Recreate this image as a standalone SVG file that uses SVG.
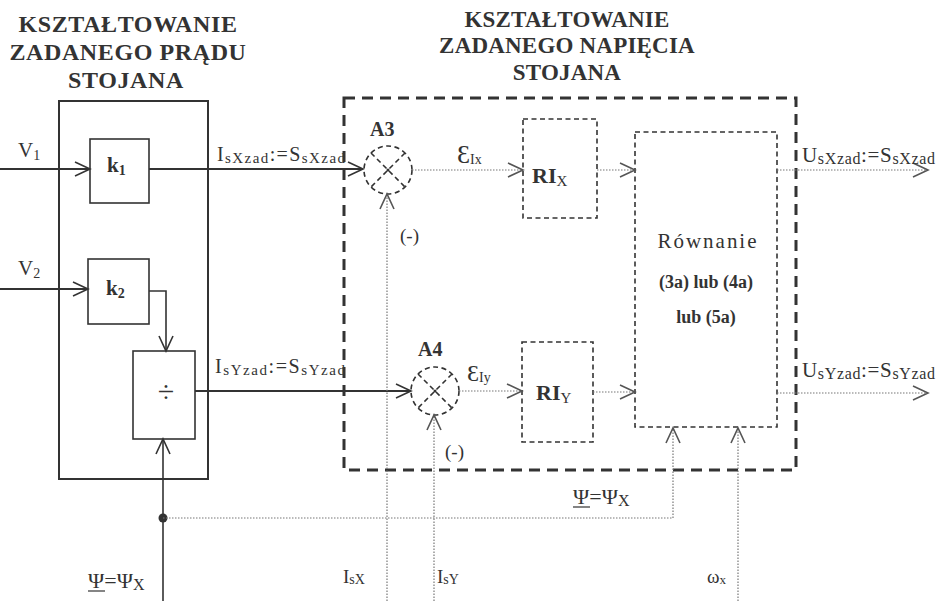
<svg xmlns="http://www.w3.org/2000/svg" width="943" height="601" viewBox="0 0 943 601" font-family="'Liberation Serif', 'DejaVu Serif', serif">
<style>
text{font-family:'Liberation Serif','DejaVu Serif',serif;fill:#333}
.h{font-weight:bold;font-size:24px;letter-spacing:0.6px;text-anchor:middle}
.h2{font-weight:bold;font-size:23px;letter-spacing:0.2px;text-anchor:middle}
.b{font-weight:bold}
.solid{fill:none;stroke:#333;stroke-width:2}
.thin{fill:none;stroke:#333;stroke-width:1.6}
.dot{fill:none;stroke:#777;stroke-width:1.2;stroke-dasharray:1.5 1.5}
.big{fill:none;stroke:#333;stroke-width:3;stroke-dasharray:11 7}
.dash{fill:none;stroke:#333;stroke-width:1.6;stroke-dasharray:5 3.5}
</style>
<defs>
<marker id="a" markerUnits="userSpaceOnUse" markerWidth="18" markerHeight="16" refX="16" refY="8" orient="auto">
<path d="M1,1 L16,8 L1,15" fill="none" stroke="#333" stroke-width="1.6"/>
</marker>
<marker id="ag" markerUnits="userSpaceOnUse" markerWidth="18" markerHeight="16" refX="16" refY="8" orient="auto">
<path d="M1,1 L16,8 L1,15" fill="none" stroke="#555" stroke-width="1.6"/>
</marker>
</defs>

<g id="headings">
<text class="h" x="128" y="32">KSZTAŁTOWANIE</text>
<text class="h" x="128" y="60">ZADANEGO PRĄDU</text>
<text class="h" x="126" y="88">STOJANA</text>
<text class="h2" x="567" y="27">KSZTAŁTOWANIE</text>
<text class="h2" x="567" y="53">ZADANEGO NAPIĘCIA</text>
<text class="h2" x="567" y="80">STOJANA</text>
</g>

<g id="current-block">
<rect class="solid" x="59" y="101" width="149" height="378"/>
</g>
<g id="voltage-block">
<rect class="big" x="344" y="98" width="452" height="372"/>
</g>

<g id="k1">
<rect class="thin" x="90" y="139" width="59" height="64"/>
<text class="b" x="107" y="172" font-size="21">k<tspan font-size="14" dy="3">1</tspan></text>
</g>
<g id="k2">
<rect class="thin" x="88" y="259" width="61" height="65"/>
<text class="b" x="106" y="295" font-size="21">k<tspan font-size="14" dy="3">2</tspan></text>
</g>
<g id="div">
<rect class="thin" x="133" y="351" width="62" height="88"/>
<text x="166" y="402" font-size="30" text-anchor="middle">÷</text>
</g>

<g id="A3">
<circle class="dash" cx="388" cy="170" r="24"/>
<path class="dash" d="M371,153 L405,187 M405,153 L371,187"/>
<circle cx="388" cy="170" r="1.5" fill="#333"/>
<text class="b" x="370" y="136" font-size="20">A3</text>
<text x="400" y="242" font-size="19">(-)</text>
</g>
<g id="A4">
<circle class="dash" cx="435" cy="391" r="24"/>
<path class="dash" d="M418,374 L452,408 M452,374 L418,408"/>
<circle cx="435" cy="391" r="1.5" fill="#333"/>
<text class="b" x="418" y="356" font-size="20">A4</text>
<text x="445" y="458" font-size="19">(-)</text>
</g>

<g id="RIx">
<rect class="dash" x="523" y="119" width="74" height="99"/>
<text class="b" x="532" y="183" font-size="22">RI<tspan font-size="15" dy="3" font-weight="normal">X</tspan></text>
</g>
<g id="RIy">
<rect class="dash" x="522" y="342" width="71" height="100"/>
<text class="b" x="536" y="400" font-size="22">RI<tspan font-size="15" dy="3" font-weight="normal">Y</tspan></text>
</g>
<g id="rownanie">
<rect class="dash" x="635" y="132" width="142" height="295"/>
<text x="707" y="248" font-size="21" text-anchor="middle" textLength="99">Równanie</text>
<text class="b" x="706" y="288" font-size="18" text-anchor="middle">(3a) lub (4a)</text>
<text class="b" x="706" y="323" font-size="18" text-anchor="middle">lub (5a)</text>
</g>

<g id="connectors">
<path class="solid" d="M0,169 H90" marker-end="url(#a)"/>
<path class="solid" d="M149,169 H363" marker-end="url(#a)"/>
<path class="solid" d="M0,289 H88" marker-end="url(#a)"/>
<path class="thin" d="M149,291 H166 V351" marker-end="url(#a)"/>
<path class="solid" d="M195,391 H411" marker-end="url(#a)"/>
<path class="thin" d="M163,601 V439" marker-end="url(#a)"/>
<circle cx="163" cy="518" r="4.5" fill="#333"/>
<path class="dot" d="M163,518 H673 V428" marker-end="url(#ag)"/>
<path class="dot" d="M387,601 V194" marker-end="url(#ag)"/>
<path class="dot" d="M434,601 V415" marker-end="url(#ag)"/>
<path class="dot" d="M412,170 H523" marker-end="url(#ag)"/>
<path class="dot" d="M597,170 H635" marker-end="url(#ag)"/>
<path class="dot" d="M777,170 H928" marker-end="url(#ag)"/>
<path class="dot" d="M459,391 H522" marker-end="url(#ag)"/>
<path class="dot" d="M593,392 H635" marker-end="url(#ag)"/>
<path class="dot" d="M777,393 H928" marker-end="url(#ag)"/>
<path class="dot" d="M738,601 V428" marker-end="url(#ag)"/>
</g>

<g id="labels">
<text x="18" y="157" font-size="21">V<tspan font-size="14" dy="3">1</tspan></text>
<text x="18" y="275" font-size="21">V<tspan font-size="14" dy="3">2</tspan></text>
<text x="217" y="161" font-size="20" textLength="128" lengthAdjust="spacing">I<tspan font-size="15" dy="2">sXzad</tspan><tspan dy="-2">:=S</tspan><tspan font-size="15" dy="2">sXzad</tspan></text>
<text x="215" y="373" font-size="20" textLength="130" lengthAdjust="spacing">I<tspan font-size="15" dy="2">sYzad</tspan><tspan dy="-2">:=S</tspan><tspan font-size="15" dy="2">sYzad</tspan></text>
<text x="802" y="162" font-size="21" textLength="133" lengthAdjust="spacing">U<tspan font-size="16" dy="2">sXzad</tspan><tspan dy="-2">:=S</tspan><tspan font-size="16" dy="2">sXzad</tspan></text>
<text x="802" y="377" font-size="21" textLength="133" lengthAdjust="spacing">U<tspan font-size="16" dy="2">sYzad</tspan><tspan dy="-2">:=S</tspan><tspan font-size="16" dy="2">sYzad</tspan></text>
<text x="457" y="163" font-size="26">Ɛ<tspan font-size="14" dy="1">Ix</tspan></text>
<text x="467" y="381" font-size="24">Ɛ<tspan font-size="14" dy="1">Iy</tspan></text>
<text x="88" y="588" font-size="22">Ψ=Ψ<tspan font-size="16" dy="2">X</tspan></text>
<path d="M88,591 H105" stroke="#333" stroke-width="1.2"/>
<text x="573" y="504" font-size="22">Ψ=Ψ<tspan font-size="16" dy="2">X</tspan></text>
<path d="M573,507 H590" stroke="#333" stroke-width="1.2"/>
<text x="343" y="583" font-size="19">I<tspan font-size="14" dy="1">sX</tspan></text>
<text x="437" y="583" font-size="19">I<tspan font-size="14" dy="1">sY</tspan></text>
<text x="707" y="583" font-size="19">ω<tspan font-size="13" dy="1">x</tspan></text>
</g>
</svg>
